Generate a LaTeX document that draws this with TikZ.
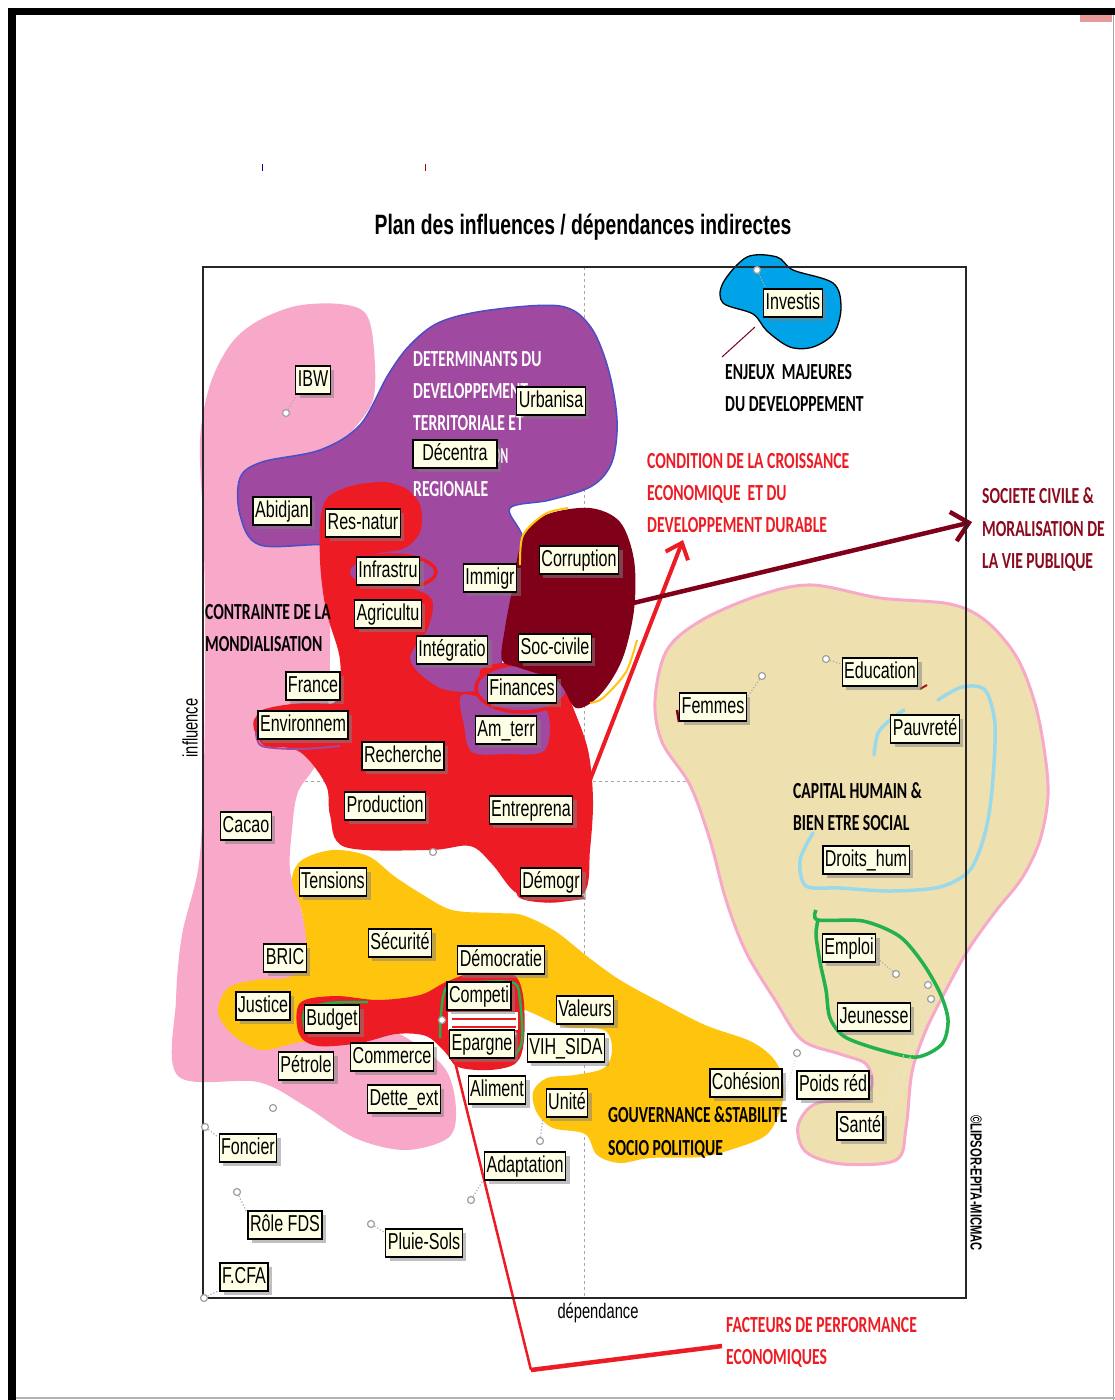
\documentclass[tikz,border=0pt]{standalone}
\usepackage{fontspec}
\usepackage{graphicx}
\setmainfont{Liberation Sans}
\newfontfamily\lblfont{Liberation Sans}[FakeStretch=0.7]
\newfontfamily\annfont{Carlito}[FakeStretch=0.68]
\newfontfamily\ttlfont{Liberation Sans}[FakeStretch=0.69]
\usetikzlibrary{shadows,arrows.meta}

\definecolor{pinkc}{HTML}{F8A8C8}
\definecolor{purplec}{HTML}{A049A0}
\definecolor{purpleedge}{HTML}{4A4FC8}
\definecolor{redc}{HTML}{ED1C24}
\definecolor{maroonc}{HTML}{80001A}
\definecolor{maroontxt}{HTML}{8B0A1E}
\definecolor{yellowc}{HTML}{FFC40E}
\definecolor{beigec}{HTML}{EFE0AF}
\definecolor{pinkline}{HTML}{F7A9C9}
\definecolor{bluec}{HTML}{00A2E8}
\definecolor{lbluec}{HTML}{99D9EA}
\definecolor{greenc}{HTML}{22B14C}
\definecolor{cream}{HTML}{FFFFE6}
\definecolor{cornerc}{HTML}{E89A9A}

\tikzset{
  var/.style={draw=black, line width=1.3pt, fill=cream, inner xsep=2pt, inner ysep=3pt,
    font=\lblfont\fontsize{23}{23}\selectfont, text height=17pt, text depth=5pt,
    drop shadow={shadow xshift=4pt, shadow yshift=-4pt, fill=black!50}},
  ann/.style={anchor=base west, inner sep=0pt, font=\annfont\bfseries\fontsize{23}{23}\selectfont},
  mk/.style={circle, draw=gray!75, fill=white, line width=1.2pt, inner sep=0pt, minimum size=7pt},
  lead/.style={gray!65, line width=1.2pt, dotted},
  blob/.style={smooth cycle, tension=0.55}
}

\begin{document}
\begin{tikzpicture}[x=1pt, y=-1pt]
\useasboundingbox (0,0) rectangle (1115,1400);
\fill[white] (0,0) rectangle (1115,1400);

% page edges
\fill[black] (8,8) rectangle (1115,15);
\fill[black] (8,8) rectangle (16,1400);
\draw[gray!70, line width=1pt] (1113,15) -- (1113,1400);
\draw[gray!60, line width=1.5pt] (16,1398) -- (1115,1398);
\fill[cornerc] (1080,15) rectangle (1112,22);
\draw[blue!60!black, line width=1pt] (262,164) -- (262,171);
\draw[red!70!black, line width=1pt] (425,164) -- (425,171);

% mid axes of the plane
\draw[gray!70, dashed, line width=0.8pt] (584,267) -- (584,1298);
\draw[gray!70, dashed, line width=0.8pt] (203,781) -- (966,781);

% clusters
\fill[pinkc] plot[blob] coordinates {(256,322) (296,306) (340,304) (366,314) (374,350) (373,400) (350,435) (333,470) (330,560) (330,650) (328,705) (318,760) (298,792) (292,830) (290,870) (300,905) (315,960) (340,1000) (410,1040) (446,1070) (456,1110) (448,1138) (405,1150) (355,1138) (305,1106) (258,1082) (178,1076) (176,1000) (182,935) (198,870) (203,800) (205,700) (205,600) (203,520) (200,440) (210,385) (230,345)};

\filldraw[fill=purplec, draw=purpleedge, line width=1.5pt] plot[blob] coordinates {(240,478) (262,462) (320,450) (360,425) (388,375) (410,345) (440,322) (490,310) (560,306) (590,326) (608,368) (617,420) (612,462) (592,486) (550,500) (510,508) (522,535) (532,575) (515,615) (500,665) (480,690) (440,690) (405,665) (398,620) (380,560) (330,545) (260,545) (240,515)};

\fill[redc] plot[blob] coordinates {(322,510) (340,490) (385,482) (413,496) (421,528) (405,548) (370,556) (362,578) (410,588) (432,600) (428,628) (410,660) (440,688) (478,690) (482,668) (520,662) (556,670) (572,705) (588,750) (593,800) (590,850) (584,893) (545,902) (515,892) (492,864) (470,846) (430,850) (345,847) (330,815) (326,785) (300,752) (262,742) (255,718) (290,706) (335,702) (340,660) (326,610) (320,560)};

% purple pockets inside the red cluster
\fill[purplec] plot[blob] coordinates {(462,695) (500,703) (545,708) (545,750) (505,754) (472,752) (464,725)};
\filldraw[fill=purplec, draw=redc, line width=3.5pt] (392,572) ellipse [x radius=44, y radius=17];
\filldraw[fill=purplec, draw=redc, line width=3.5pt] (522,688) ellipse [x radius=46, y radius=24];
\draw[redc, line width=4pt] plot[smooth] coordinates {(322,530) (328,500) (360,486) (400,488) (418,505) (418,532) (400,545) (370,550)};
\draw[purplec, line width=2pt] plot[smooth] coordinates {(256,732) (262,746) (300,749) (340,746)};
\draw[redc, line width=3.5pt] plot[smooth] coordinates {(256,728) (262,712) (300,705) (345,706)};
\draw[redc, line width=3.5pt] plot[smooth] coordinates {(258,730) (265,744) (300,745) (345,742)};

% maroon cluster
\fill[maroonc] plot[blob] coordinates {(526,532) (548,514) (590,508) (620,522) (634,560) (634,610) (622,660) (600,695) (576,708) (558,682) (520,668) (502,660) (505,628) (512,590) (518,555)};
\draw[yellowc, line width=2pt] plot[smooth] coordinates {(520,565) (523,535) (545,514) (568,508)};
\draw[yellowc, line width=2pt] plot[smooth] coordinates {(637,640) (626,672) (603,698) (590,703)};

% yellow cluster
\fill[yellowc] plot[blob] coordinates {(292,880) (302,860) (333,850) (368,856) (394,876) (420,893) (452,910) (495,913) (522,915) (555,931) (588,957) (620,980) (660,1002) (705,1025) (752,1042) (776,1062) (784,1090) (778,1116) (765,1136) (733,1149) (700,1157) (650,1158) (620,1163) (597,1155) (585,1134) (553,1128) (537,1113) (533,1092) (547,1078) (575,1075) (604,1068) (612,1050) (604,1030) (565,1027) (530,1012) (495,1000) (430,1002) (370,1030) (330,1042) (300,1042) (262,1050) (233,1035) (218,1012) (228,988) (256,980) (292,976) (306,950) (302,912)};

% red band and outlines of the economic performance group
\fill[redc] plot[blob] coordinates {(300,1003) (335,996) (378,1000) (420,995) (446,982) (476,972) (512,974) (523,995) (524,1040) (516,1063) (490,1070) (458,1067) (445,1052) (426,1036) (396,1034) (360,1043) (318,1046) (299,1034)};
\fill[white] (448,1012) rectangle (518,1030);
\draw[redc, line width=2pt] (452,1019) -- (516,1019);
\draw[redc, line width=2pt] (452,1027) -- (516,1027);
\draw[greenc, line width=2.5pt] plot[smooth] coordinates {(440,1038) (446,988) (480,982) (514,983) (520,1000) (522,1040) (512,1056) (480,1058) (452,1054)};
\draw[greenc, line width=2.5pt] plot[smooth] coordinates {(305,1030) (305,1010) (330,1003) (368,1002)};
\draw[redc, line width=3.5pt] plot[smooth] coordinates {(518,875) (520,896) (550,901) (584,897)};

% human capital cluster
\filldraw[fill=beigec, draw=pinkline, line width=3pt] plot[blob] coordinates {(812,585) (760,595) (702,620) (667,650) (655,700) (662,742) (690,785) (710,840) (726,900) (746,952) (775,1000) (802,1040) (840,1054) (866,1064) (872,1086) (855,1099) (815,1104) (798,1126) (806,1152) (842,1164) (896,1160) (906,1128) (912,1072) (926,1030) (946,990) (968,950) (995,912) (1022,878) (1040,840) (1048,795) (1044,748) (1034,700) (1016,656) (986,621) (950,604) (880,598)};
\draw[lbluec, line width=3.5pt, line cap=round] plot[smooth] coordinates {(874,755) (878,733) (890,720) (904,710)};
\draw[lbluec, line width=3.5pt, line cap=round] plot[smooth] coordinates {(938,700) (962,687) (985,690) (995,725) (992,790) (985,833) (970,870) (940,887) (890,891) (840,888) (806,886) (800,860) (813,833)};
\draw[greenc, line width=3.5pt] plot[smooth] coordinates {(816,910) (818,920) (863,921) (899,936) (922,962) (940,993) (948,1020) (942,1044) (917,1057) (881,1050) (845,1037) (830,1018) (826,990) (820,962) (816,935) (818,920)};
\draw[redc!70!black, line width=2pt] (920,689) -- (927,685);
\draw[maroonc, line width=2.5pt] (677,710) -- (679,722);

% key issue cluster
\filldraw[fill=bluec, draw=black, line width=1.3pt] plot[blob] coordinates {(723,283) (747,257) (777,257) (793,270) (833,283) (841,307) (834,333) (813,347) (790,347) (767,331) (753,314) (723,303)};

% arrows towards the cluster titles
\coordinate (arA0) at (590,780);
\coordinate (arA1) at (683,540);
\coordinate (arB0) at (625,605);
\coordinate (arB1) at (972,522);
\coordinate (arC0) at (455,1062);
\coordinate (arC1) at (531,1370);
\coordinate (arC2) at (722,1346);
\coordinate (arD0) at (755,327);
\coordinate (arD1) at (722,357);
\draw[redc, line width=4pt, -{Straight Barb[length=14pt, width=24pt]}] (arA0) -- (arA1);
\draw[maroonc, line width=4.5pt, -{Straight Barb[length=16pt, width=30pt]}] (arB0) -- (arB1);
\draw[redc, line width=2.5pt] (arC0) -- (arC1);
\draw[redc, line width=4.5pt] (arC1) -- (arC2);
\draw[maroonc, line width=1pt] (arD0) -- (arD1);

% frame of the plane
\draw[black!85, line width=1.5pt] (203,267) rectangle (966,1298);

% variable points and their leaders
\node[mk] (pibw) at (286,413) {};
\draw[lead] (pibw) -- (296,396);
\node[mk] (pinv) at (757,270) {};
\draw[lead] (pinv) -- (766,289);
\node[mk] (pfem) at (762,676) {};
\draw[lead] (pfem) -- (748,696);
\node[mk] (pedu) at (826,659) {};
\draw[lead] (pedu) -- (841,664);
\node[mk] (pemp) at (896,974) {};
\draw[lead] (pemp) -- (877,958);
\node[mk] (pjeu1) at (928,985) {};
\node[mk] (pjeu2) at (931,999) {};
\draw[lead, white!80!gray] (pjeu1) -- (884,1112);
\draw[lead, white!80!gray] (pjeu2) -- (890,1114);
\node[mk] (ppoi) at (797,1053) {};
\draw[lead, white!80!gray] (ppoi) -- (778,1118);
\node[mk] (pfon) at (205,1127) {};
\draw[lead] (pfon) -- (218,1137);
\node[mk] (pdet) at (273,1108) {};
\node[mk] (prol) at (237,1192) {};
\draw[lead] (prol) -- (246,1211);
\node[mk] (pplu) at (371,1224) {};
\draw[lead] (pplu) -- (384,1232);
\node[mk] (puni) at (540,1141) {};
\draw[lead] (puni) -- (543,1118);
\node[mk] (pada) at (471,1200) {};
\draw[lead] (pada) -- (482,1182);
\node[mk] (pfcf) at (204,1298) {};
\draw[lead] (pfcf) -- (218,1291);
\node[mk] (ppro) at (433,852) {};
\node[mk] (pepa) at (442,1020) {};
\node[mk] (pepb) at (513,1034) {};

% cluster titles
\node[ann, text=white] (d1) at (413,366) {DETERMINANTS DU};
\node[ann, text=white] (d2) at (413,398) {DEVELOPPEMENT};
\node[ann, text=white] (d3) at (413,430) {TERRITORIALE ET};
\node[ann, text=white] (d4) at (413,463) {\scalebox{0.74}[1]{DECENTRALISATION}};
\node[ann, text=white] (d5) at (413,496) {REGIONALE};
\node[ann, text=redc] (c1) at (647,468) {CONDITION DE LA CROISSANCE};
\node[ann, text=redc] (c2) at (647,500) {ECONOMIQUE\ \ ET DU};
\node[ann, text=redc] (c3) at (647,532) {DEVELOPPEMENT DURABLE};
\node[ann, text=maroontxt] (s1) at (982,503) {SOCIETE CIVILE \&};
\node[ann, text=maroontxt] (s2) at (982,536) {MORALISATION DE};
\node[ann, text=maroontxt] (s3) at (982,568) {LA VIE PUBLIQUE};
\node[ann] (e1) at (725,379) {ENJEUX\ \ MAJEURES};
\node[ann] (e2) at (725,411) {DU DEVELOPPEMENT};
\node[ann] (m1) at (205,619) {CONTRAINTE DE LA};
\node[ann] (m2) at (205,651) {MONDIALISATION};
\node[ann] (h1) at (793,798) {CAPITAL HUMAIN \&};
\node[ann] (h2) at (793,830) {BIEN ETRE SOCIAL};
\node[ann] (g1) at (608,1122) {GOUVERNANCE \&STABILITE};
\node[ann] (g2) at (608,1155) {SOCIO POLITIQUE};
\node[ann, text=redc] (f1) at (726,1332) {FACTEURS DE PERFORMANCE};
\node[ann, text=redc] (f2) at (726,1364) {ECONOMIQUES};

% variables
\node[var] (ibw) at (313,380) {IBW};
\node[var] (urb) at (551,401) {Urbanisa};
\node[var, minimum width=84pt] (dec) at (455,454) {Décentra};
\node[var] (abi) at (282,511) {Abidjan};
\node[var] (res) at (363,523) {Res-natur};
\node[var] (inf) at (388,571) {Infrastru};
\node[var] (imm) at (490,578) {Immigr};
\node[var] (cor) at (579,560) {Corruption};
\node[var] (agr) at (388,614) {Agricultu};
\node[var] (int) at (452,650) {Intégratio};
\node[var] (soc) at (555,648) {Soc-civile};
\node[var] (fra) at (313,686) {France};
\node[var] (fin) at (522,689) {Finances};
\node[var] (fem) at (713,707) {Femmes};
\node[var] (edu) at (880,672) {Education};
\node[var] (pau) at (925,729) {Pauvreté};
\node[var] (env) at (303,725) {Environnem};
\node[var] (amt) at (506,730) {Am\_terr};
\node[var] (rec) at (403,756) {Recherche};
\node[var] (pro) at (385,806) {Production};
\node[var] (ent) at (531,810) {Entreprena};
\node[var] (cac) at (246,826) {Cacao};
\node[var] (dro) at (866,860) {Droits\_hum};
\node[var] (dem) at (551,882) {Démogr};
\node[var] (ten) at (333,882) {Tensions};
\node[var] (sec) at (400,943) {Sécurité};
\node[var] (dmc) at (501,960) {Démocratie};
\node[var] (bri) at (285,958) {BRIC};
\node[var] (emp) at (849,948) {Emploi};
\node[var] (jus) at (263,1006) {Justice};
\node[var] (com) at (479,996) {Competi};
\node[var] (val) at (585,1010) {Valeurs};
\node[var] (bud) at (332,1019) {Budget};
\node[var] (jeu) at (874,1017) {Jeunesse};
\node[var] (epa) at (482,1044) {Epargne};
\node[var] (vih) at (566,1048) {VIH\_SIDA};
\node[var] (pet) at (306,1066) {Pétrole};
\node[var] (cmc) at (392,1057) {Commerce};
\node[var] (coh) at (746,1083) {Cohésion};
\node[var] (poi) at (833,1085) {Poids réd};
\node[var] (ali) at (497,1090) {Aliment};
\node[var] (det) at (404,1099) {Dette\_ext};
\node[var] (uni) at (567,1103) {Unité};
\node[var] (san) at (860,1126) {Santé};
\node[var] (fon) at (248,1148) {Foncier};
\node[var] (ada) at (525,1166) {Adaptation};
\node[var] (rol) at (285,1225) {Rôle FDS};
\node[var] (plu) at (424,1243) {Pluie-Sols};
\node[var] (fcf) at (244,1277) {F.CFA};
\node[var] (inv) at (793,303) {Investis};

% titles and axis names
\node[font=\ttlfont\bfseries\fontsize{28}{28}\selectfont] (title) at (583,227) {Plan des influences / dépendances indirectes};
\node[rotate=90, font=\lblfont\fontsize{21}{21}\selectfont] (ylab) at (190,728) {influence};
\node[font=\lblfont\fontsize{21}{21}\selectfont] (xlab) at (598,1313) {dépendance};
\node[rotate=-90, font=\lblfont\bfseries\fontsize{16}{16}\selectfont] (cpy) at (976,1183) {©LIPSOR-EPITA-MICMAC};
\end{tikzpicture}
\end{document}
